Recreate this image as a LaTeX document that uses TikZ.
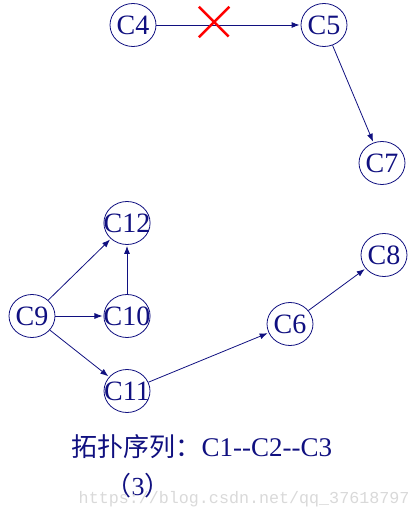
\documentclass[tikz,border=0pt]{standalone}
\usepackage{fontspec}
\setmainfont{Liberation Serif}
\newfontfamily\cjk{Noto Sans CJK SC}
\newfontfamily\markfont{Liberation Mono}
\usepackage{tikz}
\usetikzlibrary{arrows, arrows.meta, automata, shapes}
\definecolor{navy}{RGB}{16,16,128}

\begin{document}
\begin{tikzpicture}[->, >={Latex[length=8pt, width=6pt]}, shorten >=1pt, x=1pt, y=-1pt, line width=0.8pt, draw=navy,
	every state/.style={fill=white, draw=navy, text=navy, ellipse, line width=0.8pt, inner xsep=-7pt, inner ysep=0pt, minimum width=46pt, minimum height=43pt, font=\fontsize{28}{30}\selectfont},
	crossmark/.style={cross out, draw=red, line width=2.5pt, minimum size=28pt, inner sep=0pt, yshift=3pt}]
	\useasboundingbox (0,0) rectangle (417,518);
	\node[state] (C4) at (133,25) {C4};
	\node[state] (C5) [node distance=191pt, right of=C4] {C5};
	\node[state] (C7) [node distance=138pt, below of=C5, xshift=58pt] {C7};
	\node[state] (C9) at (32,316) {C9};
	\node[state] (C10) [node distance=95pt, right of=C9] {C10};
	\node[state] (C12) [node distance=93pt, above of=C10] {C12};
	\node[state] (C11) [node distance=75pt, below of=C10] {C11};
	\node[state] (C6) [node distance=163pt, right of=C10, yshift=-8pt] {C6};
	\node[state] (C8) [node distance=94pt, right of=C6, yshift=69pt] {C8};

	\draw (C4) -- node[crossmark, pos=0.4] {} (C5);
	\draw (C5) -- (C7);
	\draw (C9) -- (C12);
	\draw (C9) -- (C10);
	\draw (C10) -- (C12);
	\draw (C9) -- (C11);
	\draw (C11) -- (C6);
	\draw (C6) -- (C8);

	\node[anchor=base west, text=navy, font=\fontsize{26}{30}\selectfont] (seq) at (68,456) {{\cjk 拓扑序列：}{\fontsize{27}{30}\selectfont C1-\kern0pt-C2-\kern0pt-C3}};
	\node[anchor=base west, text=navy, font=\fontsize{26}{30}\selectfont] (step) at (102,495) {{\cjk （}3{\cjk ）}};
	\node[anchor=base west, text=gray!30, font=\markfont\fontsize{16.7}{18}\selectfont] (mark) at (75,503) {https://blog.csdn.net/qq\_37618797};
\end{tikzpicture}
\end{document}
